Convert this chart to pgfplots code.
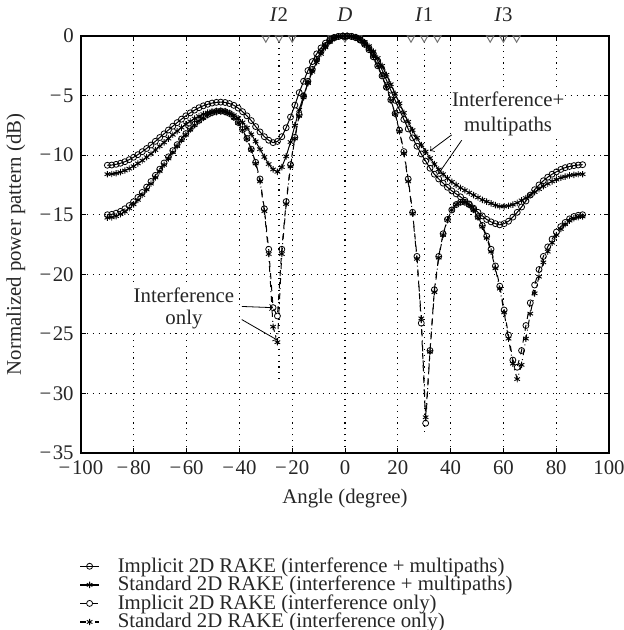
\documentclass[border=0pt]{standalone}
\usepackage{pgfplots}
\pgfplotsset{compat=1.18}
\usepackage{pgfplotstable}
\usepackage{fontspec}
\setmainfont{Liberation Serif}

% angle, implicit (I+M), standard (I+M), implicit (I only), standard (I only)
\pgfplotstableread{
ang A B C D
-90.00 -10.85 -11.60 -15.00 -15.25
-88.35 -10.83 -11.58 -14.97 -15.22
-86.70 -10.77 -11.52 -14.87 -15.12
-85.05 -10.68 -11.43 -14.72 -14.96
-83.39 -10.55 -11.29 -14.50 -14.74
-81.74 -10.38 -11.13 -14.23 -14.46
-80.09 -10.18 -10.93 -13.91 -14.13
-78.44 -9.96 -10.70 -13.54 -13.75
-76.79 -9.71 -10.45 -13.13 -13.34
-75.14 -9.44 -10.17 -12.68 -12.88
-73.49 -9.15 -9.88 -12.21 -12.39
-71.83 -8.84 -9.57 -11.70 -11.87
-70.18 -8.52 -9.25 -11.18 -11.34
-68.53 -8.21 -8.93 -10.66 -10.81
-66.88 -7.89 -8.61 -10.14 -10.28
-65.23 -7.57 -8.29 -9.62 -9.75
-63.58 -7.27 -7.98 -9.12 -9.24
-61.93 -6.98 -7.69 -8.64 -8.74
-60.28 -6.70 -7.41 -8.19 -8.29
-58.62 -6.45 -7.16 -7.77 -7.86
-56.97 -6.22 -6.93 -7.40 -7.48
-55.32 -6.02 -6.73 -7.08 -7.15
-53.67 -5.86 -6.56 -6.81 -6.87
-52.02 -5.73 -6.43 -6.59 -6.64
-50.37 -5.63 -6.33 -6.43 -6.48
-48.72 -5.57 -6.27 -6.33 -6.39
-47.06 -5.55 -6.25 -6.30 -6.35
-45.41 -5.58 -6.30 -6.35 -6.40
-43.76 -5.67 -6.45 -6.50 -6.55
-42.11 -5.82 -6.65 -6.80 -6.85
-40.46 -6.05 -6.90 -7.25 -7.30
-38.81 -6.35 -7.25 -7.85 -7.90
-37.16 -6.70 -7.70 -8.60 -8.65
-35.50 -7.10 -8.25 -9.50 -9.55
-33.85 -7.60 -8.85 -10.60 -10.70
-32.20 -8.05 -9.50 -12.00 -12.20
-30.55 -8.45 -10.15 -14.50 -14.70
-28.90 -8.75 -10.75 -17.90 -18.30
-27.25 -8.95 -11.20 -22.80 -24.40
-25.60 -8.85 -11.40 -23.50 -25.70
-23.94 -8.45 -11.00 -17.90 -18.30
-22.29 -7.70 -10.10 -13.90 -14.10
-20.64 -6.80 -8.90 -10.80 -10.95
-18.99 -5.80 -7.50 -8.50 -8.60
-17.34 -4.75 -6.20 -6.60 -6.70
-15.69 -3.80 -5.00 -5.05 -5.15
-14.04 -2.90 -3.95 -3.80 -3.90
-12.39 -2.15 -3.00 -2.80 -2.85
-10.73 -1.50 -2.20 -1.95 -2.00
-9.08 -1.00 -1.50 -1.30 -1.30
-7.43 -0.60 -0.95 -0.80 -0.80
-5.78 -0.30 -0.50 -0.40 -0.40
-4.13 -0.12 -0.20 -0.15 -0.15
-2.48 -0.04 -0.06 -0.04 -0.04
-0.83 0.00 -0.01 0.00 0.00
0.83 0.00 0.00 0.00 0.00
2.48 -0.03 -0.03 -0.04 -0.04
4.13 -0.12 -0.10 -0.15 -0.15
5.78 -0.30 -0.25 -0.35 -0.35
7.43 -0.60 -0.50 -0.70 -0.70
9.08 -1.00 -0.85 -1.15 -1.15
10.73 -1.50 -1.30 -1.75 -1.75
12.39 -2.10 -1.85 -2.50 -2.50
14.04 -2.85 -2.50 -3.35 -3.35
15.69 -3.70 -3.25 -4.30 -4.30
17.34 -4.55 -4.05 -5.35 -5.40
18.99 -5.40 -4.85 -6.50 -6.55
20.64 -6.20 -5.65 -7.90 -8.00
22.29 -7.00 -6.45 -9.70 -9.85
23.94 -7.80 -7.20 -12.00 -12.20
25.60 -8.55 -7.90 -14.80 -14.90
27.25 -9.25 -8.55 -18.50 -18.70
28.90 -9.90 -9.15 -24.10 -23.70
30.55 -10.50 -9.70 -32.50 -32.00
32.20 -11.10 -10.25 -26.40 -26.50
33.85 -11.60 -10.75 -21.30 -21.50
35.50 -12.00 -11.20 -18.50 -18.60
37.16 -12.35 -11.60 -16.60 -16.70
38.81 -12.70 -11.95 -15.40 -15.45
40.46 -13.00 -12.25 -14.60 -14.60
42.11 -13.25 -12.50 -14.15 -14.15
43.76 -13.50 -12.75 -13.95 -13.95
45.41 -13.80 -12.95 -13.95 -13.95
47.06 -14.10 -13.15 -14.15 -14.20
48.72 -14.45 -13.35 -14.55 -14.60
50.37 -14.80 -13.55 -15.15 -15.25
52.02 -15.10 -13.75 -15.90 -16.00
53.67 -15.40 -13.90 -16.80 -16.95
55.32 -15.60 -14.05 -17.90 -18.10
56.97 -15.75 -14.20 -19.30 -19.50
58.62 -15.85 -14.30 -21.00 -21.20
60.28 -15.75 -14.30 -23.00 -23.20
61.93 -15.55 -14.25 -25.10 -25.40
63.58 -15.20 -14.15 -27.20 -27.50
65.23 -14.80 -14.00 -27.80 -28.80
66.88 -14.35 -13.80 -26.40 -27.60
68.53 -13.85 -13.60 -24.30 -25.40
70.18 -13.35 -13.35 -22.40 -23.30
71.83 -12.90 -13.10 -20.90 -21.60
73.49 -12.50 -12.85 -19.60 -20.20
75.14 -12.15 -12.60 -18.50 -19.00
76.79 -11.85 -12.40 -17.70 -18.10
78.44 -11.60 -12.20 -17.05 -17.35
80.09 -11.40 -12.05 -16.45 -16.70
81.74 -11.20 -11.90 -16.00 -16.20
83.39 -11.05 -11.80 -15.65 -15.80
85.05 -10.95 -11.70 -15.35 -15.50
86.70 -10.88 -11.65 -15.15 -15.30
88.35 -10.83 -11.60 -15.05 -15.20
90.00 -10.80 -11.60 -15.00 -15.15
}\patterns

% look directions of the desired signal and interferers (drawn at the top edge)
\pgfplotstableread{
ang y
-30 -0.17
-25 -0.17
-20 -0.17
-5 -0.17
0 -0.17
5 -0.17
25 -0.17
30 -0.17
35 -0.17
55 -0.17
60 -0.17
65 -0.17
}\looks

\begin{document}
\fontsize{10.4}{12.5}\selectfont
\begin{tikzpicture}[text=black!85]
\useasboundingbox (-40.5pt,-88.5pt) rectangle (271.5pt,226.5pt);
\begin{axis}[
    at={(0,0)}, anchor=south west,
    scale only axis,
    width=264pt, height=208.5pt,
    xmin=-100, xmax=100,
    ymin=-35, ymax=0,
    xtick={-100,-80,...,100},
    xticklabels={−\kern0.8pt100,−\kern0.8pt80,−\kern0.8pt60,−\kern0.8pt40,−\kern0.8pt20,0,20,40,60,80,100},
    ytick={-35,-30,...,0},
    yticklabels={−\kern0.8pt35,−\kern0.8pt30,−\kern0.8pt25,−\kern0.8pt20,−\kern0.8pt15,−\kern0.8pt10,−\kern0.8pt5,0},
    xlabel={Angle (degree)},
    ylabel={Normalized power pattern (dB)},
    grid=major,
    grid style={black, line width=0.55pt, dash pattern=on 0.55pt off 2.4pt},
    axis line style={line width=0.7pt},
    tick style={black, line width=0.5pt},
    major tick length=2.5pt,
    tick align=inside,
    clip=false,
    legend style={at={(0,0)}, anchor=north west, xshift=-4pt, yshift=-48pt,
        draw=none, fill=none, row sep=-3.6pt,
        /tikz/every odd column/.append style={column sep=7pt}},
    legend cell align=left,
    legend image code/.code={\draw[mark repeat=2,mark phase=2,#1,line width=0.7pt]
        plot coordinates {(0pt,0pt) (4.75pt,0pt) (9.5pt,0pt)};},
    every axis plot/.append style={line width=0.5pt},
]

\addplot[only marks, mark=triangle, mark size=2.1pt,
    mark options={rotate=180, draw=black!55, fill=white, line width=0.5pt},
    forget plot] table[x=ang, y=y] {\looks};

\draw[black, line width=0.55pt, dash pattern=on 0.55pt off 2.4pt]
    (axis cs:-25,0) -- (axis cs:-25,-29);
\draw[black, line width=0.55pt, dash pattern=on 0.55pt off 2.4pt]
    (axis cs:30,0) -- (axis cs:30,-33.5);

\addplot[black, mark=o, mark size=1.5pt, mark options={solid, line width=0.4pt}]
    table[x=ang, y=A] {\patterns};
\addlegendentry{Implicit 2D RAKE (interference + multipaths)}

\addplot[black, mark=asterisk, mark size=1.6pt, mark options={solid, line width=0.45pt}]
    table[x=ang, y=B] {\patterns};
\addlegendentry{Standard 2D RAKE (interference + multipaths)}

\addplot[black, dashed, mark=o, mark size=1.5pt, mark options={solid, line width=0.4pt}]
    table[x=ang, y=C] {\patterns};
\addlegendentry{Implicit 2D RAKE (interference only)}

\addplot[black, dash dot, mark=asterisk, mark size=1.6pt, mark options={solid, line width=0.45pt}]
    table[x=ang, y=D] {\patterns};
\addlegendentry{Standard 2D RAKE (interference only)}

% source labels above the frame
\node at ([yshift=10.5pt]axis cs:-25,0) {\textit{I}2};
\node at ([yshift=10.5pt]axis cs:0,0) {\textit{D}};
\node at ([yshift=10.5pt]axis cs:30,0) {\textit{I}1};
\node at ([yshift=10.5pt]axis cs:60,0) {\textit{I}3};

% annotations
\node[align=center, fill=white, inner sep=0.5pt, font=\fontsize{10.4}{12.5}\selectfont]
    at (axis cs:61.8,-6.5) {Interference+\\multipaths};
\draw[->, black, line width=0.4pt] (axis cs:40.4,-8.3) -- (axis cs:32.2,-9.65);
\draw[->, black, line width=0.4pt] (axis cs:44.2,-8.75) -- (axis cs:35.3,-11.6);

\node[align=center, fill=white, inner sep=0.5pt, font=\fontsize{10.4}{11}\selectfont]
    at (axis cs:-61,-22.9) {Interference\\only};
\draw[->, black, line width=0.4pt] (axis cs:-39.1,-22.7) -- (axis cs:-27.3,-22.8);
\draw[->, black, line width=0.4pt] (axis cs:-39.1,-23.8) -- (axis cs:-25.8,-25.5);

\end{axis}
\end{tikzpicture}
\end{document}
